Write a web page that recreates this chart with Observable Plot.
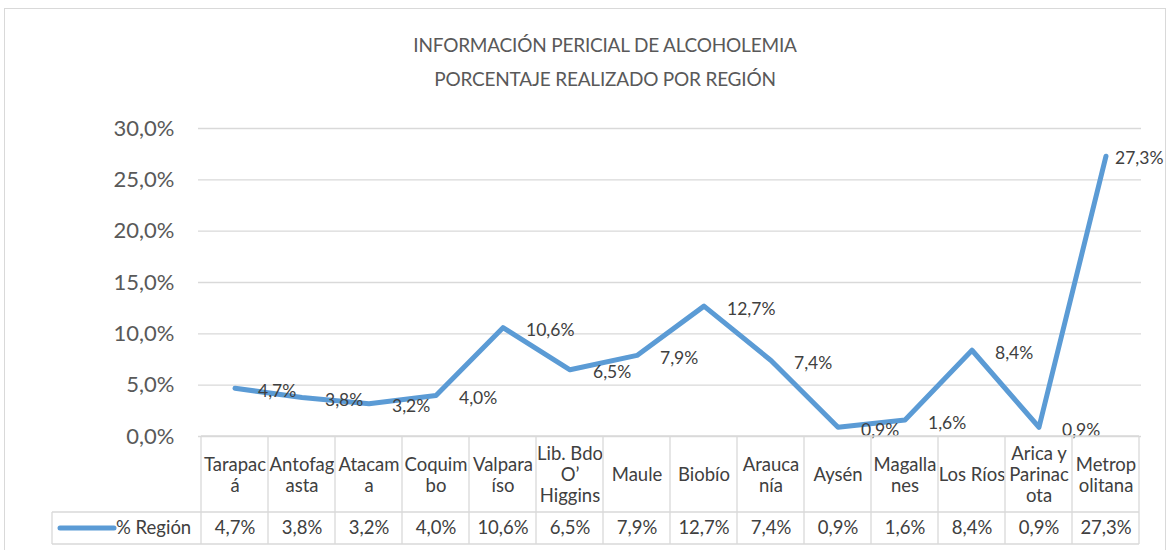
<!DOCTYPE html>
<html>
<head>
<meta charset="utf-8">
<script src="https://cdn.jsdelivr.net/npm/d3@7"></script>
<script src="https://cdn.jsdelivr.net/npm/@observablehq/plot@0.6"></script>
<style>
  html, body { margin: 0; padding: 0; background: #fff; }
  #wrap { position: relative; width: 1170px; height: 550px; overflow: hidden; font-family: Lato, "Open Sans", sans-serif; }
  #frame { position: absolute; left: 4px; top: 8px; width: 1162px; height: 600px; border: 1px solid #d9d9d9; box-sizing: border-box; }
  .title { position: absolute; left: 0; width: 1210px; text-align: center; color: #595959; font-size: 19px; font-weight: 400; letter-spacing: -0.2px; }
  #chart { position: absolute; left: 0; top: 100px; }
</style>
</head>
<body>
<div id="wrap">
  <div id="frame"></div>
  <div class="title" style="top:33px">INFORMACIÓN PERICIAL DE ALCOHOLEMIA</div>
  <div class="title" style="top:67px">PORCENTAJE REALIZADO POR REGIÓN</div>
  <div id="chart"></div>
</div>
<script>
const regions = ["Tarapacá","Antofagasta","Atacama","Coquimbo","Valparaíso","Lib. Bdo O’Higgins","Maule","Biobío","Araucanía","Aysén","Magallanes","Los Ríos","Arica y Parinacota","Metropolitana"];
const headerLabels = ["Tarapac\ná","Antofag\nasta","Atacam\na","Coquim\nbo","Valpara\níso","Lib. Bdo\nO’\nHiggins","Maule","Biobío","Arauca\nnía","Aysén","Magalla\nnes","Los Ríos","Arica y\nParinac\nota","Metrop\nolitana"];
const values = [0.047,0.038,0.032,0.040,0.106,0.065,0.079,0.127,0.074,0.009,0.016,0.084,0.009,0.273];
const yTicks = [0,0.05,0.10,0.15,0.20,0.25,0.30];
const seriesName = "% Región";

const pct = d => (d*100).toFixed(1).replace(".", ",") + "%";
const data = regions.map((r,i) => ({region: r, header: headerLabels[i], value: values[i], label: pct(values[i])}));
const last = data.length - 1;

const W = 1170, H = 450;
const blue = "#5B9BD5";
const font = "Lato, 'Open Sans', sans-serif";
const chart = Plot.plot({
  width: W, height: H,
  marginLeft: 198, marginRight: 29, marginTop: 28, marginBottom: 114,
  style: {fontFamily: font, background: "transparent"},
  x: {type: "band", domain: regions, padding: 0, axis: null},
  y: {domain: [0, 0.30], ticks: yTicks, tickFormat: pct, tickSize: 0, tickPadding: 24, label: null},
  marks: [
    Plot.ruleY(yTicks, {stroke: "#d9d9d9", strokeWidth: 1.3}),
    Plot.axisY({ticks: yTicks, tickFormat: pct, tickSize: 0, tickPadding: 24, label: null, fontSize: 22, color: "#595959"}),
    Plot.line(data, {x: "region", y: "value", stroke: blue, strokeWidth: 5, strokeLinejoin: "round", strokeLinecap: "round"}),
    Plot.text(data.slice(0, last), {x: "region", y: "value", text: "label", textAnchor: "start", dx: 23, dy: 3, fontSize: 17.5, fill: "#404040"}),
    Plot.text(data.slice(last), {x: "region", y: "value", text: "label", textAnchor: "start", dx: 9, dy: 2, fontSize: 17.5, fill: "#404040"}),
    Plot.text(data, {x: "region", text: "header", frameAnchor: "bottom", dy: 38, lineAnchor: "middle", lineHeight: 1.13, fontSize: 18.5, fill: "#404040"}),
    Plot.text(data, {x: "region", text: "label", frameAnchor: "bottom", dy: 92, lineAnchor: "middle", fontSize: 18.5, fill: "#404040"})
  ]
});
document.getElementById("chart").appendChild(chart);

// Data table borders, placed with the chart's own scales
const xs = chart.scale("x"), ys = chart.scale("y");
const svg = d3.select(chart);
const y0 = ys.apply(0);
const rowH = 76, valH = 32;
const bw = xs.bandwidth;
const left = xs.apply(regions[0]);
const right = xs.apply(regions[last]) + bw;
const legendLeft = 52;
const g = svg.append("g").attr("stroke", "#d9d9d9").attr("stroke-width", 1.3).attr("fill", "none");
const edges = regions.map(r => xs.apply(r)).concat([right]);
edges.forEach(x => g.append("line").attr("x1", x).attr("x2", x).attr("y1", y0).attr("y2", y0 + rowH + valH));
g.append("line").attr("x1", legendLeft).attr("x2", legendLeft).attr("y1", y0 + rowH).attr("y2", y0 + rowH + valH);
g.append("line").attr("x1", left).attr("x2", right).attr("y1", y0).attr("y2", y0);
g.append("line").attr("x1", legendLeft).attr("x2", right).attr("y1", y0 + rowH).attr("y2", y0 + rowH);
g.append("line").attr("x1", legendLeft).attr("x2", right).attr("y1", y0 + rowH + valH).attr("y2", y0 + rowH + valH);
// legend key
const ly = y0 + rowH + valH / 2;
svg.append("line").attr("x1", 60).attr("x2", 114).attr("y1", ly).attr("y2", ly)
  .attr("stroke", blue).attr("stroke-width", 5).attr("stroke-linecap", "round");
svg.append("text").attr("x", 116).attr("y", ly).attr("dy", "0.35em").attr("text-anchor", "start")
  .attr("font-size", 18.5).attr("fill", "#404040").attr("font-family", font).text(seriesName);
</script>
</body>
</html>
